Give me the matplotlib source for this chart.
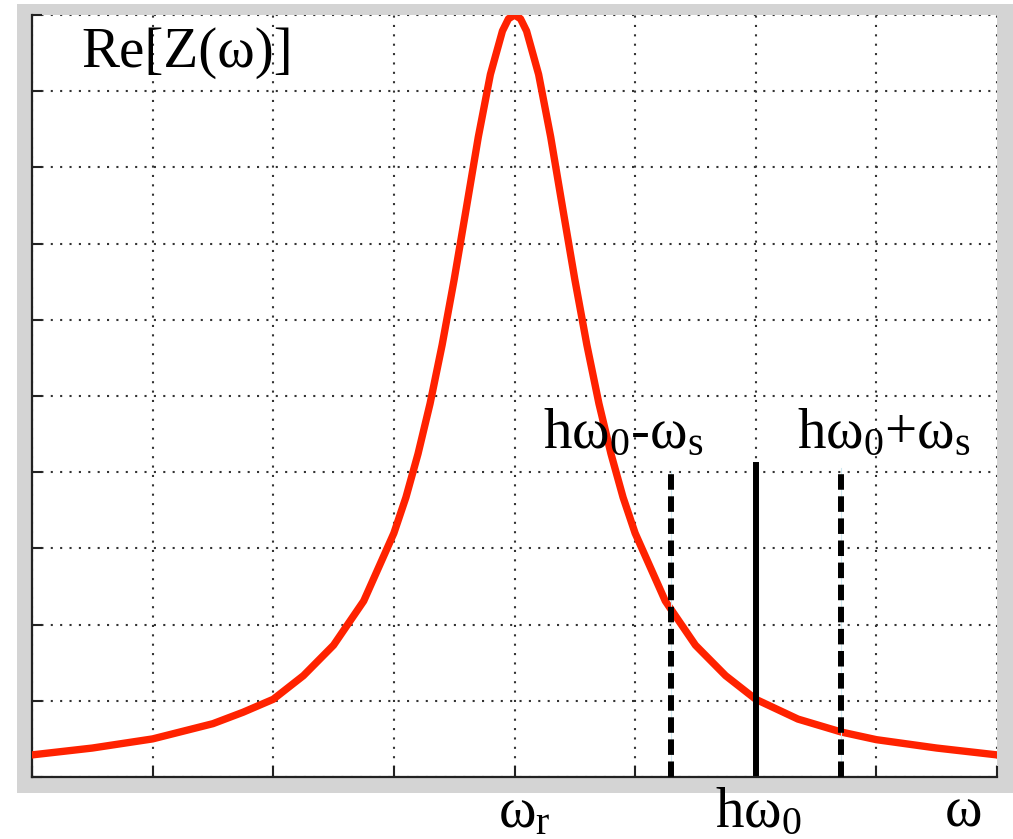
import matplotlib
matplotlib.use("Agg")
import matplotlib.pyplot as plt
from matplotlib.patches import Rectangle

# Courbe Re[Z(w)] (unites de grille)
omega = [0.0, 0.5, 1.0, 1.5, 1.75, 2.0, 2.25, 2.5, 2.75, 3.0, 3.1, 3.2,
         3.3, 3.4, 3.5, 3.6, 3.7, 3.8, 3.9, 3.95, 4.0, 4.05, 4.1, 4.2,
         4.3, 4.4, 4.5, 4.6, 4.7, 4.8, 4.9, 5.0, 5.25, 5.5, 5.75, 6.0,
         6.35, 6.71, 7.0, 7.5, 8.0]
re_z = [0.29, 0.38, 0.50, 0.70, 0.85, 1.02, 1.33, 1.73, 2.31, 3.2, 3.67, 4.24,
        4.9, 5.67, 6.53, 7.46, 8.4, 9.22, 9.79, 9.95, 10.0, 9.95, 9.79, 9.22,
        8.4, 7.46, 6.53, 5.67, 4.9, 4.24, 3.67, 3.2, 2.31, 1.73, 1.33, 1.02,
        0.76, 0.59, 0.49, 0.38, 0.29]

# Raies verticales : h*w0 - ws, h*w0, h*w0 + ws
line_x = [5.3, 6.0, 6.71]
line_top = [4.02, 4.09, 4.06]
line_style = ["dashed", "solid", "dashed"]

x_ticks = [0, 1, 2, 3, 4, 5, 6, 7, 8]
y_ticks = [0, 1, 2, 3, 4, 5, 6, 7, 8, 9, 10]

plt.rcParams["font.family"] = ["Liberation Serif", "DejaVu Serif"]
plt.rcParams["mathtext.fontset"] = "custom"
plt.rcParams["mathtext.rm"] = "Liberation Serif"
plt.rcParams["mathtext.it"] = "Liberation Serif"
plt.rcParams["mathtext.default"] = "rm"

W, H = 1013, 839
fig = plt.figure(figsize=(W / 100, H / 100), dpi=100)
fig.patch.set_facecolor("white")

# cadre gris (derriere les axes)
fig.patches.append(Rectangle((17 / W, 1 - 793 / H), (W - 17) / W, (793 - 4) / H,
                             transform=fig.transFigure, facecolor="#d4d4d4",
                             edgecolor="none", zorder=-10))

ax = fig.add_axes([32 / W, 1 - 777 / H, 965 / W, 762 / H])
ax.set_zorder(1)
ax.set_facecolor("white")
ax.set_xlim(0, 8)
ax.set_ylim(0, 10)
ax.set_xticks(x_ticks)
ax.set_yticks(y_ticks)
ax.set_xticklabels([])
ax.set_yticklabels([])
ax.tick_params(direction="in", length=8, width=1.5, color="#222222")
ax.tick_params(axis="y", length=7)
ax.grid(True, color="#333333", linewidth=1.5, linestyle=(0, (1, 3.5)))
ax.set_axisbelow(True)
for s in ["top", "right"]:
    ax.spines[s].set_visible(False)
for s in ["left", "bottom"]:
    ax.spines[s].set_linewidth(1.6)
    ax.spines[s].set_color("#222222")

ax.plot(omega, re_z, color="#ff2200", linewidth=5.3, zorder=3,
        solid_joinstyle="round")

for x, top, ls in zip(line_x, line_top, line_style):
    if ls == "dashed":
        ax.plot([x, x], [0, top], color="#cfe9ef", linewidth=0.8, zorder=4)
        ax.plot([x, x], [0, top], color="black", linewidth=4.3,
                linestyle=(0, (2.6, 1.1)), zorder=5)
    else:
        ax.plot([x, x], [0.05, top], color="black", linewidth=4.3, zorder=5)

fs = 41
ax.text(0.41, 9.32, "Re[Z(ω)]", fontsize=fs, va="baseline", ha="left")
ax.text(4.24, 4.32, r"$h\omega_0$-$\omega_s$", fontsize=fs, va="baseline", ha="left")
ax.text(6.34, 4.32, r"$h\omega_0$+$\omega_s$", fontsize=fs, va="baseline", ha="left")
ax.text(3.86, -0.656, r"$\omega_r$", fontsize=fs, va="baseline", ha="left", clip_on=False)
ax.text(5.66, -0.656, r"$h\omega_0$", fontsize=fs, va="baseline", ha="left", clip_on=False)
ax.text(7.57, -0.656, "ω", fontsize=fs, va="baseline", ha="left", clip_on=False)

fig.savefig("out.png", dpi=100)
